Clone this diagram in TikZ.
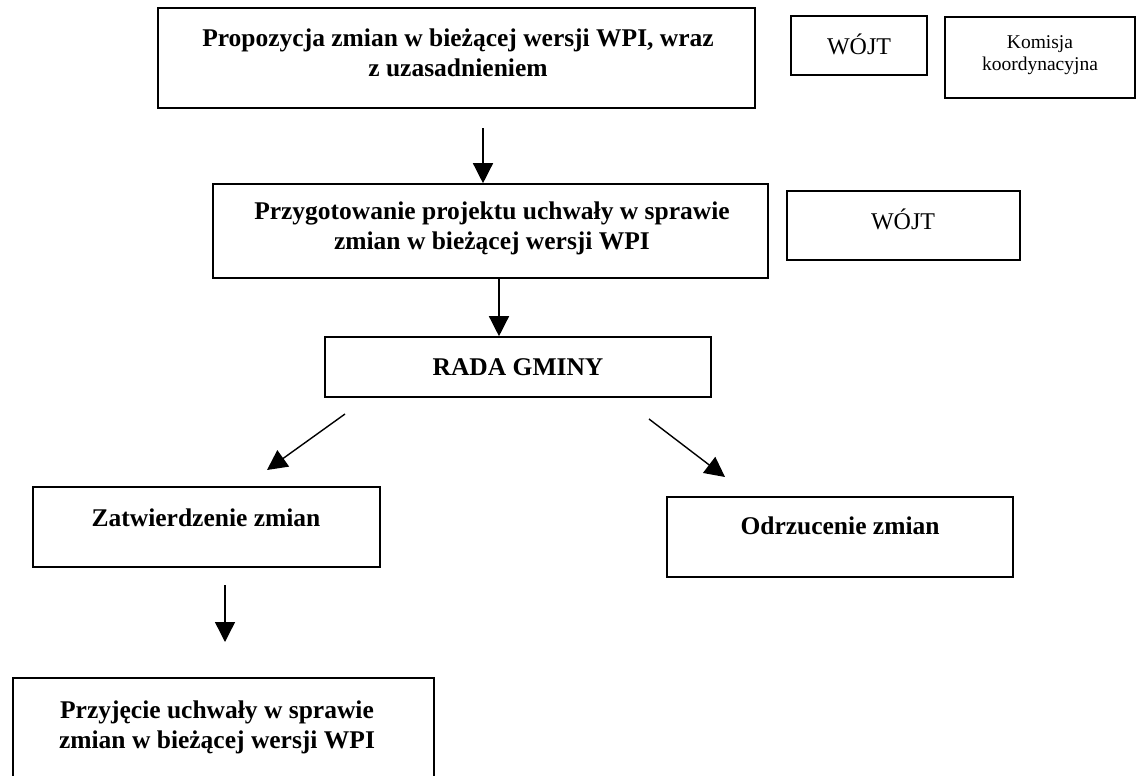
\documentclass[tikz,border=0pt]{standalone}
\usepackage{fontspec}
\setmainfont{Liberation Serif}
\usetikzlibrary{arrows.meta}
\tikzset{
  box/.style={draw, line width=1.6pt, rectangle, inner sep=0pt},
  btxt/.style={font=\fontsize{25.5}{30}\selectfont\bfseries, align=center, inner sep=0pt},
  rtxt/.style={font=\fontsize{24}{28}\selectfont, align=center, inner sep=0pt},
  stxt/.style={font=\fontsize{19.5}{22}\selectfont, align=center, inner sep=0pt},
  arr/.style={line width=1.4pt, -{Triangle[width=20pt,length=20pt]}},
}
\begin{document}
\begin{tikzpicture}[x=1pt,y=-1pt]
\useasboundingbox (0,0) rectangle (1138,776);
% boxes
\node[box, minimum width=597pt, minimum height=100pt] (b1) at (456.5,58) {};
\node[box, minimum width=136pt, minimum height=59pt] (wb1) at (859,45.5) {};
\node[box, minimum width=190pt, minimum height=81pt] (kb1) at (1040,57.5) {};
\node[box, minimum width=555pt, minimum height=94pt] (b2) at (490.5,231) {};
\node[box, minimum width=233pt, minimum height=69pt] (wb2) at (903.5,225.5) {};
\node[box, minimum width=386pt, minimum height=60pt] (rada) at (518,367) {};
\node[box, minimum width=347pt, minimum height=80pt] (zat) at (206.5,527) {};
\node[box, minimum width=346pt, minimum height=80pt] (odr) at (840,537) {};
\node[box, minimum width=421pt, minimum height=100pt] (prz) at (223.5,728) {};
% texts
\node[btxt] (t1) at (458,53) {Propozycja zmian w bieżącej wersji WPI, wraz\\z uzasadnieniem};
\node[rtxt] (w1) at (859,44) {WÓJT};
\node[stxt] (k1) at (1040,55) {Komisja\\koordynacyjna};
\node[btxt] (t2) at (492,228) {Przygotowanie projektu uchwały w sprawie\\zmian w bieżącej wersji WPI};
\node[rtxt] (w2) at (903,219) {WÓJT};
\node[btxt] (t3) at (518,367) {RADA GMINY};
\node[btxt] (t4) at (206,518) {Zatwierdzenie zmian};
\node[btxt] (t5) at (840,526) {Odrzucenie zmian};
\node[btxt] (t6) at (217,727) {Przyjęcie uchwały w sprawie\\zmian w bieżącej wersji WPI};
% arrows
\coordinate (a1s) at (483,128);
\draw[arr] (a1s) -- (b2.north -| a1s);
\coordinate (a2x) at (499,0);
\draw[arr] (b2.south -| a2x) -- (rada.north -| a2x);
\coordinate (l1s) at (345,414);
\coordinate (l1e) at (267,470);
\draw[arr] (l1s) -- (l1e);
\coordinate (r1s) at (649,419);
\coordinate (r1e) at (725,477);
\draw[arr] (r1s) -- (r1e);
\coordinate (d1s) at (225,585);
\coordinate (d1e) at (225,642);
\draw[arr] (d1s) -- (d1e);
\end{tikzpicture}
\end{document}
